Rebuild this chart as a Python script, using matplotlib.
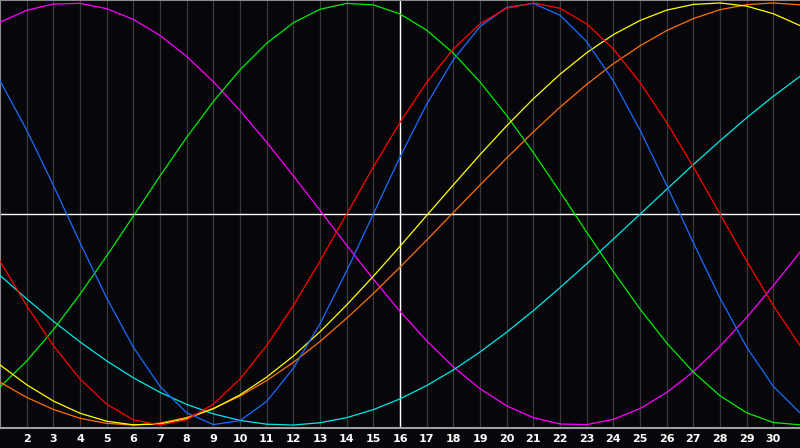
# biorhythm-style chart, 31 days
import numpy as np
import matplotlib.pyplot as plt

# días del mes
days = list(range(1, 32))
tick_days = list(range(2, 31))
today = 16

# valores diarios (-1 .. 1)
red = [-0.223, -0.434, -0.623, -0.782, -0.901, -0.975, -1.000, -0.975, -0.901, -0.782,
       -0.623, -0.434, -0.223, 0.000, 0.223, 0.434, 0.623, 0.782, 0.901, 0.975,
       1.000, 0.975, 0.901, 0.782, 0.623, 0.434, 0.223, 0.000, -0.223, -0.434, -0.623]
blue = [0.631, 0.398, 0.136, -0.136, -0.398, -0.631, -0.817, -0.942, -0.998, -0.979,
        -0.888, -0.731, -0.520, -0.270, 0.000, 0.270, 0.520, 0.731, 0.888, 0.979,
        0.998, 0.942, 0.817, 0.631, 0.398, 0.136, -0.136, -0.398, -0.631, -0.817, -0.942]
green = [-0.820, -0.697, -0.549, -0.380, -0.199, -0.010, 0.180, 0.363, 0.533, 0.683,
         0.809, 0.906, 0.970, 0.998, 0.991, 0.948, 0.871, 0.762, 0.626, 0.467,
         0.291, 0.105, -0.086, -0.273, -0.450, -0.611, -0.749, -0.861, -0.942, -0.988, -0.999]
magenta = [0.909, 0.965, 0.995, 0.998, 0.973, 0.922, 0.846, 0.747, 0.627, 0.490,
           0.340, 0.181, 0.017, -0.148, -0.309, -0.461, -0.601, -0.724, -0.828, -0.909,
           -0.965, -0.995, -0.998, -0.973, -0.922, -0.846, -0.747, -0.627, -0.490, -0.340, -0.181]
yellow = [-0.715, -0.809, -0.886, -0.944, -0.982, -0.999, -0.995, -0.969, -0.923, -0.857,
          -0.773, -0.673, -0.558, -0.431, -0.295, -0.153, -0.007, 0.138, 0.281, 0.418,
          0.546, 0.662, 0.764, 0.850, 0.917, 0.966, 0.993, 1.000, 0.985, 0.949, 0.893]
orange = [-0.797, -0.869, -0.926, -0.968, -0.992, -1.000, -0.991, -0.964, -0.921, -0.863,
          -0.789, -0.703, -0.604, -0.494, -0.377, -0.252, -0.124, 0.007, 0.137, 0.265,
          0.389, 0.506, 0.614, 0.712, 0.797, 0.869, 0.926, 0.968, 0.992, 1.000, 0.991]
cyan = [-0.291, -0.402, -0.508, -0.606, -0.696, -0.776, -0.845, -0.902, -0.947, -0.978,
        -0.996, -1.000, -0.989, -0.965, -0.927, -0.876, -0.813, -0.739, -0.654, -0.560,
        -0.458, -0.349, -0.236, -0.119, -0.001, 0.117, 0.234, 0.347, 0.456, 0.558, 0.652]

series = [
    (magenta, '#ff00ff'),
    (cyan, '#00e8e8'),
    (green, '#00ee00'),
    (orange, '#ff7000'),
    (yellow, '#ffff00'),
    (blue, '#1a6cff'),
    (red, '#ff0000'),
]

bg = '#07070b'

fig = plt.figure(figsize=(8, 4.48), dpi=100, facecolor=bg)
ax = fig.add_axes([0, 20 / 448, 1, 428 / 448])
ax.set_facecolor(bg)

ax.set_xlim(1, 31)
ax.set_ylim(-1.014, 1.014)

# rejilla vertical por día
for d in days[1:-1]:
    ax.axvline(d, color='#3a3a3a', lw=0.9, zorder=1)

# líneas de referencia
ax.axhline(0, color='white', lw=1.0, zorder=2)
ax.axvline(today, color='white', lw=1.0, zorder=2)

for values, color in series:
    ax.plot(days, values, color=color, lw=0.9, zorder=3)

ax.set_yticks([])
ax.set_xticks(tick_days)
ax.set_xticklabels([str(d) for d in tick_days], color='white',
                   fontsize=8, fontweight='bold', family='DejaVu Sans')
ax.tick_params(axis='x', length=0, pad=4)

for side in ['top', 'left']:
    ax.spines[side].set_color('#8a8a8a')
    ax.spines[side].set_linewidth(1.5)
ax.spines['bottom'].set_color('#a0a0a0')
ax.spines['bottom'].set_linewidth(1.5)
ax.spines['right'].set_visible(False)

fig.savefig('out.png', dpi=100, facecolor=bg)
